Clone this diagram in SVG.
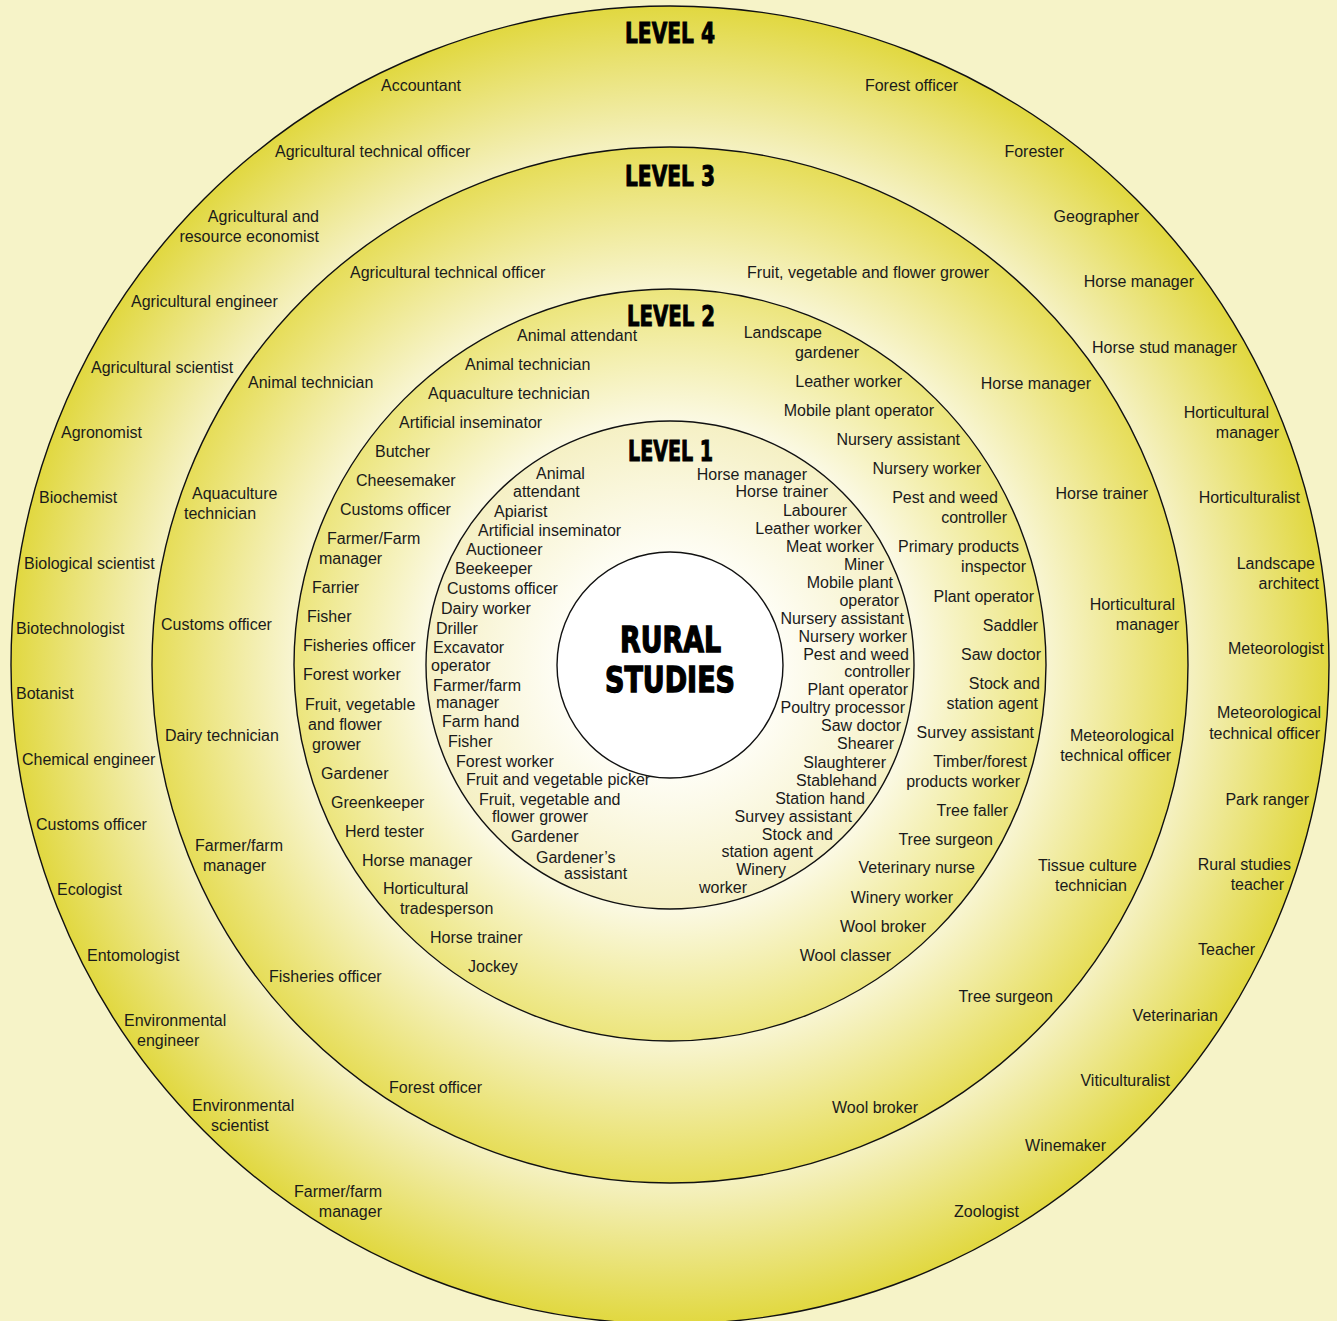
<svg xmlns="http://www.w3.org/2000/svg" width="1337" height="1321" viewBox="0 0 1337 1321">
<defs>
<radialGradient id="g4"><stop offset="0.786" stop-color="#f5f1c2"/><stop offset="1" stop-color="#e1d840"/></radialGradient>
<radialGradient id="g3"><stop offset="0.726" stop-color="#f8f5d2"/><stop offset="1" stop-color="#e6dd58"/></radialGradient>
<radialGradient id="g2"><stop offset="0.649" stop-color="#fbf9e4"/><stop offset="1" stop-color="#ece57c"/></radialGradient>
<radialGradient id="g1"><stop offset="0.463" stop-color="#fefdf4"/><stop offset="1" stop-color="#f5f0c4"/></radialGradient>
<style>
.ring{stroke:#111;stroke-width:1.4}
text{font-family:"Liberation Sans",Arial,sans-serif;font-size:16px;fill:#1a1a1a}
.e{text-anchor:end}
.t{font-family:"Liberation Sans Narrow","DejaVu Sans Condensed","Liberation Sans",sans-serif;font-weight:bold;font-size:28px;fill:#000;stroke:#000;stroke-width:0.9}
.big{font-size:36px;stroke-width:1.3}
</style>
</defs>
<rect width="1337" height="1321" fill="#f6f3c8"/>
<g id="level4">
<circle class="ring" cx="670" cy="665" r="659" fill="url(#g4)"/>
<text class="t" x="625" y="43" textLength="90" lengthAdjust="spacingAndGlyphs">LEVEL 4</text>
<text x="381" y="91">Accountant</text>
<text x="275" y="157">Agricultural technical officer</text>
<text class="e" x="319" y="222">Agricultural and</text>
<text class="e" x="319" y="242">resource economist</text>
<text x="131" y="307">Agricultural engineer</text>
<text x="91" y="373">Agricultural scientist</text>
<text x="61" y="438">Agronomist</text>
<text x="39" y="503">Biochemist</text>
<text x="24" y="569">Biological scientist</text>
<text x="16" y="634">Biotechnologist</text>
<text x="16" y="699">Botanist</text>
<text x="22" y="765">Chemical engineer</text>
<text x="36" y="830">Customs officer</text>
<text x="57" y="895">Ecologist</text>
<text x="87" y="961">Entomologist</text>
<text x="124" y="1026">Environmental</text>
<text x="137" y="1046">engineer</text>
<text x="192" y="1111">Environmental</text>
<text x="211" y="1131">scientist</text>
<text class="e" x="382" y="1197">Farmer/farm</text>
<text class="e" x="382" y="1217">manager</text>
<text class="e" x="958" y="91">Forest officer</text>
<text class="e" x="1064" y="157">Forester</text>
<text class="e" x="1139" y="222">Geographer</text>
<text class="e" x="1194" y="287">Horse manager</text>
<text class="e" x="1237" y="353">Horse stud manager</text>
<text class="e" x="1269" y="418">Horticultural</text>
<text class="e" x="1279" y="438">manager</text>
<text class="e" x="1300" y="503">Horticulturalist</text>
<text class="e" x="1315" y="569">Landscape</text>
<text class="e" x="1319" y="589">architect</text>
<text class="e" x="1324" y="654">Meteorologist</text>
<text class="e" x="1321" y="718">Meteorological</text>
<text class="e" x="1320" y="739">technical officer</text>
<text class="e" x="1309" y="805">Park ranger</text>
<text class="e" x="1291" y="870">Rural studies</text>
<text class="e" x="1284" y="890">teacher</text>
<text class="e" x="1255" y="955">Teacher</text>
<text class="e" x="1218" y="1021">Veterinarian</text>
<text class="e" x="1170" y="1086">Viticulturalist</text>
<text class="e" x="1106" y="1151">Winemaker</text>
<text class="e" x="1019" y="1217">Zoologist</text>
</g>
<g id="level3">
<circle class="ring" cx="670" cy="665" r="518" fill="url(#g3)"/>
<text class="t" x="625" y="186" textLength="90" lengthAdjust="spacingAndGlyphs">LEVEL 3</text>
<text x="350" y="278">Agricultural technical officer</text>
<text x="248" y="388">Animal technician</text>
<text x="192" y="499">Aquaculture</text>
<text x="184" y="519">technician</text>
<text x="161" y="630">Customs officer</text>
<text x="165" y="741">Dairy technician</text>
<text x="195" y="851">Farmer/farm</text>
<text x="203" y="871">manager</text>
<text x="269" y="982">Fisheries officer</text>
<text x="389" y="1093">Forest officer</text>
<text class="e" x="989" y="278">Fruit, vegetable and flower grower</text>
<text class="e" x="1091" y="389">Horse manager</text>
<text class="e" x="1148" y="499">Horse trainer</text>
<text class="e" x="1175" y="610">Horticultural</text>
<text class="e" x="1179" y="630">manager</text>
<text class="e" x="1174" y="741">Meteorological</text>
<text class="e" x="1171" y="761">technical officer</text>
<text class="e" x="1137" y="871">Tissue culture</text>
<text class="e" x="1127" y="891">technician</text>
<text class="e" x="1053" y="1002">Tree surgeon</text>
<text class="e" x="918" y="1113">Wool broker</text>
</g>
<g id="level2">
<circle class="ring" cx="670" cy="665" r="376" fill="url(#g2)"/>
<text class="t" x="627" y="326" textLength="88" lengthAdjust="spacingAndGlyphs">LEVEL 2</text>
<text x="517" y="341">Animal attendant</text>
<text x="465" y="370">Animal technician</text>
<text x="428" y="399">Aquaculture technician</text>
<text x="399" y="428">Artificial inseminator</text>
<text x="375" y="457">Butcher</text>
<text x="356" y="486">Cheesemaker</text>
<text x="340" y="515">Customs officer</text>
<text x="327" y="544">Farmer/Farm</text>
<text x="319" y="564">manager</text>
<text x="312" y="593">Farrier</text>
<text x="307" y="622">Fisher</text>
<text x="303" y="651">Fisheries officer</text>
<text x="303" y="680">Forest worker</text>
<text x="305" y="710">Fruit, vegetable</text>
<text x="308" y="730">and flower</text>
<text x="312" y="750">grower</text>
<text x="321" y="779">Gardener</text>
<text x="331" y="808">Greenkeeper</text>
<text x="345" y="837">Herd tester</text>
<text x="362" y="866">Horse manager</text>
<text x="383" y="894">Horticultural</text>
<text x="400" y="914">tradesperson</text>
<text x="430" y="943">Horse trainer</text>
<text x="468" y="972">Jockey</text>
<text class="e" x="822" y="338">Landscape</text>
<text class="e" x="859" y="358">gardener</text>
<text class="e" x="902" y="387">Leather worker</text>
<text class="e" x="934" y="416">Mobile plant operator</text>
<text class="e" x="960" y="445">Nursery assistant</text>
<text class="e" x="981" y="474">Nursery worker</text>
<text class="e" x="998" y="503">Pest and weed</text>
<text class="e" x="1007" y="523">controller</text>
<text class="e" x="1019" y="552">Primary products</text>
<text class="e" x="1026" y="572">inspector</text>
<text class="e" x="1034" y="602">Plant operator</text>
<text class="e" x="1038" y="631">Saddler</text>
<text class="e" x="1041" y="660">Saw doctor</text>
<text class="e" x="1040" y="689">Stock and</text>
<text class="e" x="1038" y="709">station agent</text>
<text class="e" x="1034" y="738">Survey assistant</text>
<text class="e" x="1027" y="767">Timber/forest</text>
<text class="e" x="1020" y="787">products worker</text>
<text class="e" x="1008" y="816">Tree faller</text>
<text class="e" x="993" y="845">Tree surgeon</text>
<text class="e" x="975" y="873">Veterinary nurse</text>
<text class="e" x="953" y="903">Winery worker</text>
<text class="e" x="926" y="932">Wool broker</text>
<text class="e" x="891" y="961">Wool classer</text>
</g>
<g id="level1">
<circle class="ring" cx="670" cy="665" r="244" fill="url(#g1)"/>
<text class="t" x="628" y="461" textLength="85" lengthAdjust="spacingAndGlyphs">LEVEL 1</text>
<text x="536" y="479">Animal</text>
<text x="513" y="497">attendant</text>
<text x="494" y="517">Apiarist</text>
<text x="478" y="536">Artificial inseminator</text>
<text x="466" y="555">Auctioneer</text>
<text x="455" y="574">Beekeeper</text>
<text x="447" y="594">Customs officer</text>
<text x="441" y="614">Dairy worker</text>
<text x="436" y="634">Driller</text>
<text x="433" y="653">Excavator</text>
<text x="431" y="671">operator</text>
<text x="433" y="691">Farmer/farm</text>
<text x="436" y="708">manager</text>
<text x="442" y="727">Farm hand</text>
<text x="448" y="747">Fisher</text>
<text x="456" y="767">Forest worker</text>
<text x="466" y="785">Fruit and vegetable picker</text>
<text x="479" y="805">Fruit, vegetable and</text>
<text x="492" y="822">flower grower</text>
<text x="511" y="842">Gardener</text>
<text x="536" y="863">Gardener’s</text>
<text x="564" y="879">assistant</text>
<text class="e" x="807" y="480">Horse manager</text>
<text class="e" x="828" y="497">Horse trainer</text>
<text class="e" x="847" y="516">Labourer</text>
<text class="e" x="862" y="534">Leather worker</text>
<text class="e" x="874" y="552">Meat worker</text>
<text class="e" x="884" y="570">Miner</text>
<text class="e" x="893" y="588">Mobile plant</text>
<text class="e" x="899" y="606">operator</text>
<text class="e" x="904" y="624">Nursery assistant</text>
<text class="e" x="907" y="642">Nursery worker</text>
<text class="e" x="909" y="660">Pest and weed</text>
<text class="e" x="910" y="677">controller</text>
<text class="e" x="908" y="695">Plant operator</text>
<text class="e" x="905" y="713">Poultry processor</text>
<text class="e" x="901" y="731">Saw doctor</text>
<text class="e" x="894" y="749">Shearer</text>
<text class="e" x="886" y="768">Slaughterer</text>
<text class="e" x="877" y="786">Stablehand</text>
<text class="e" x="865" y="804">Station hand</text>
<text class="e" x="852" y="822">Survey assistant</text>
<text class="e" x="833" y="840">Stock and</text>
<text class="e" x="813" y="857">station agent</text>
<text class="e" x="786" y="875">Winery</text>
<text class="e" x="747" y="893">worker</text>
</g>
<g id="center">
<circle class="ring" cx="670" cy="665" r="113" fill="#ffffff"/>
<text class="t big" x="620" y="652" textLength="101" lengthAdjust="spacingAndGlyphs">RURAL</text>
<text class="t big" x="605" y="692" textLength="130" lengthAdjust="spacingAndGlyphs">STUDIES</text>
</g>
</svg>
